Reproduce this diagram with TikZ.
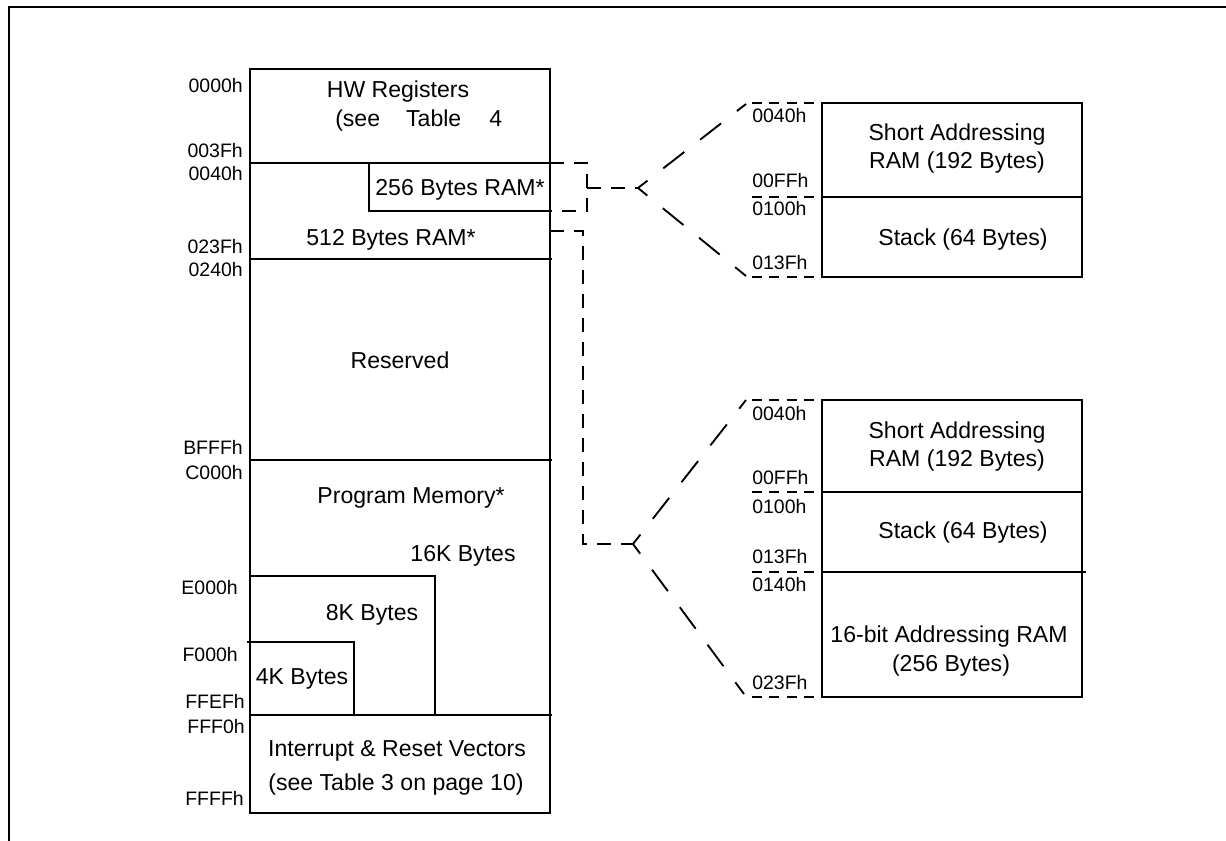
\documentclass[tikz,border=0pt]{standalone}
\usepackage{fontspec}
\setmainfont{Liberation Sans}
\newcommand\txtfont{\fontsize{17.3pt}{20pt}\selectfont}
\newcommand\lblfont{\fontsize{14.6pt}{17pt}\selectfont}
\begin{document}
\begin{tikzpicture}[x=0.75pt,y=-0.75pt,
  boxline/.style={line width=1.5pt},
  brk/.style={line width=1.5pt, dash pattern=on 10.5pt off 7.5pt},
  diagline/.style={line width=1.4pt, dash pattern=on 20pt off 15pt, dash phase=11pt},
  fineline/.style={line width=1.5pt, dash pattern=on 7.5pt off 5.5pt},
  txt/.style={font=\txtfont, inner sep=0pt, anchor=base, yshift=-6.2pt},
  txtW/.style={font=\txtfont, inner sep=0pt, anchor=base west, yshift=-6.2pt},
  lblE/.style={font=\lblfont, inner sep=0pt, anchor=base east, yshift=-5.3pt},
  lblW/.style={font=\lblfont, inner sep=0pt, anchor=base west, yshift=-5.3pt}]
\useasboundingbox (0,0) rectangle (1226,841);

% frame
\draw[boxline] (1226,7.5) -- (9,7.5) -- (9,841);

% main memory column
\draw[boxline] (250,69) rectangle (550,813);
\draw[boxline] (250,163) -- (552,163);
\draw[boxline] (250,259) -- (552,259);
\draw[boxline] (250,460) -- (552,460);
\draw[boxline] (250,715) -- (552,715);
\draw[boxline] (369,163) -- (369,211) -- (550,211);
\draw[boxline] (250,576) -- (435,576) -- (435,715);
\draw[boxline] (247,642) -- (354,642) -- (354,715);

% left address labels
\node[lblE] (a0000) at (243,85) {0000h};
\node[lblE] (a003F) at (243,150) {003Fh};
\node[lblE] (a0040) at (243,173) {0040h};
\node[lblE] (a023F) at (243,246) {023Fh};
\node[lblE] (a0240) at (243,269) {0240h};
\node[lblE] (aBFFF) at (243,447) {BFFFh};
\node[lblE] (aC000) at (243,472) {C000h};
\node[lblE] (aE000) at (238,587) {E000h};
\node[lblE] (aF000) at (238,654) {F000h};
\node[lblE] (aFFEF) at (245,701) {FFEFh};
\node[lblE] (aFFF0) at (245,726) {FFF0h};
\node[lblE] (aFFFF) at (244,798) {FFFFh};

% column texts
\node[txt] (hw) at (398,89) {HW Registers};
\node[txtW] (hwsee) at (335,118) {(see\hspace{19.5pt}Table\hspace{21pt}4};
\node[txt] (r256) at (460,187) {256 Bytes RAM*};
\node[txt] (r512) at (391,237) {512 Bytes RAM*};
\node[txt] (res) at (400,360) {Reserved};
\node[txt] (pm) at (411,495) {Program Memory*};
\node[txt] (k16) at (463,553) {16K Bytes};
\node[txt] (k8) at (372,612) {8K Bytes};
\node[txt] (k4) at (302,676) {4K Bytes};
\node[txt] (irv) at (397,748) {Interrupt \& Reset Vectors};
\node[txt] (irv2) at (396,782) {(see Table 3 on page 10)};

% connector coordinates
\coordinate (b1a) at (550,163);
\coordinate (b1b) at (587,163);
\coordinate (b1c) at (587,211);
\coordinate (b1d) at (550,211);
\coordinate (b1m) at (587,188);
\coordinate (f1) at (638,188);
\coordinate (t1u) at (746,104);
\coordinate (t1d) at (746,276);

\coordinate (b2a) at (550,231);
\coordinate (b2b) at (583,231);
\coordinate (b2c) at (583,544);
\coordinate (f2) at (633,544);
\coordinate (t2u) at (746,400);
\coordinate (t2d) at (744,694);

\draw[brk] (b1a) -- (b1b) -- (b1c) -- (b1d);
\draw[brk] (b1m) -- (f1);
\draw[diagline] (f1) -- (t1u);
\draw[diagline] (f1) -- (t1d);

\draw[brk] (b2a) -- (b2b) -- (b2c) -- (f2);
\draw[diagline] (f2) -- (t2u);
\draw[diagline] (f2) -- (t2d);

% top right box
\coordinate (e1a) at (752,103);
\coordinate (e1b) at (752,197);
\coordinate (e1c) at (752,277);
\draw[fineline] (e1a) -- (822,103);
\draw[fineline] (e1b) -- (822,197);
\draw[fineline] (e1c) -- (822,277);
\draw[boxline] (822,103) rectangle (1082,277);
\draw[boxline] (822,197) -- (1082,197);

\node[lblW] (ra0040) at (752,115) {0040h};
\node[lblW] (ra00FF) at (752,180) {00FFh};
\node[lblW] (ra0100) at (752,208) {0100h};
\node[lblW] (ra013F) at (752,262) {013Fh};
\node[txt] (sa1) at (957,132) {Short Addressing};
\node[txt] (sa1b) at (957,160) {RAM (192 Bytes)};
\node[txt] (st1) at (963,237) {Stack (64 Bytes)};

% bottom right box
\coordinate (e2a) at (752,400);
\coordinate (e2b) at (752,492);
\coordinate (e2c) at (752,572);
\coordinate (e2d) at (752,697);
\draw[fineline] (e2a) -- (822,400);
\draw[fineline] (e2b) -- (822,492);
\draw[fineline] (e2c) -- (822,572);
\draw[fineline] (e2d) -- (822,697);
\draw[boxline] (822,400) rectangle (1082,697);
\draw[boxline] (822,492) -- (1082,492);
\draw[boxline] (822,572) -- (1086,572);

\node[lblW] (rb0040) at (752,413) {0040h};
\node[lblW] (rb00FF) at (752,477) {00FFh};
\node[lblW] (rb0100) at (752,506) {0100h};
\node[lblW] (rb013F) at (752,556) {013Fh};
\node[lblW] (rb0140) at (752,584) {0140h};
\node[lblW] (rb023F) at (752,682) {023Fh};
\node[txt] (sa2) at (957,430) {Short Addressing};
\node[txt] (sa2b) at (957,458) {RAM (192 Bytes)};
\node[txt] (st2) at (963,530) {Stack (64 Bytes)};
\node[txt] (b16) at (949,634) {16-bit Addressing RAM};
\node[txt] (b16b) at (951,663) {(256 Bytes)};
\end{tikzpicture}
\end{document}
